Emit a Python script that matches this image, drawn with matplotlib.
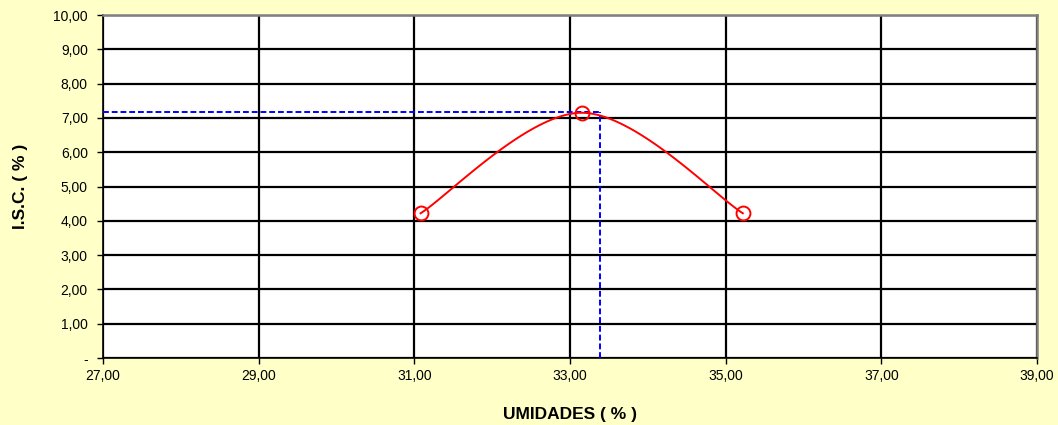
import numpy as np
import matplotlib.pyplot as plt

# data
umidade = [31.08, 33.15, 35.22]
isc = [4.22, 7.15, 4.22]
umidade_otima = 33.39
isc_max = 7.16

x_ticks = [27, 29, 31, 33, 35, 37, 39]
y_ticks = [0, 1, 2, 3, 4, 5, 6, 7, 8, 9, 10]


def fmt(v):
    return '-' if v == 0 else f'{v:.2f}'.replace('.', ',')


def smooth(xs, ys, n=60):
    # bezier smoothing similar to spreadsheet "smoothed line"
    p = np.column_stack([xs, ys])
    out = []
    for i in range(len(p) - 1):
        p0 = p[i - 1] if i > 0 else p[i]
        p3 = p[i + 2] if i + 2 < len(p) else p[i + 1]
        c1 = p[i] + (p[i + 1] - p0) / 6
        c2 = p[i + 1] - (p3 - p[i]) / 6
        t = np.linspace(0, 1, n)[:, None]
        seg = ((1 - t) ** 3 * p[i] + 3 * (1 - t) ** 2 * t * c1
               + 3 * (1 - t) * t ** 2 * c2 + t ** 3 * p[i + 1])
        out.append(seg)
    out = np.vstack(out)
    return out[:, 0], out[:, 1]


plt.rcParams['font.family'] = ['Liberation Sans', 'DejaVu Sans']

fig = plt.figure(figsize=(10.58, 4.25), dpi=100, facecolor='#FFFFC8')
ax = fig.add_axes([0.0974, 0.1576, 0.8828, 0.8071])
ax.set_facecolor('white')

ax.set_xlim(27, 39)
ax.set_ylim(0, 10)
ax.set_xticks(x_ticks)
ax.set_yticks(y_ticks)
ax.set_xticklabels([fmt(v) for v in x_ticks], fontsize=10)
ax.set_yticklabels([fmt(v) for v in y_ticks], fontsize=10)
ax.tick_params(direction='out', length=4, width=1, colors='black')
ax.tick_params(axis='y', pad=7)
ax.tick_params(axis='x', pad=4)
ax.grid(True, color='black', linewidth=1.6, zorder=1)
ax.set_axisbelow(True)

for s in ['top', 'right']:
    ax.spines[s].set_color('#808080')
    ax.spines[s].set_linewidth(1.8)
for s in ['left', 'bottom']:
    ax.spines[s].set_color('black')
    ax.spines[s].set_linewidth(1.2)

# optimum lines
ax.plot([27, umidade_otima], [isc_max, isc_max], color='#0000FF',
        linestyle=(0, (3, 1.5)), linewidth=1.4, zorder=3)
ax.plot([umidade_otima, umidade_otima], [0, isc_max], color='#0000FF',
        linestyle=(0, (3, 1.5)), linewidth=1.4, zorder=3)

sx, sy = smooth(umidade, isc)
ax.plot(sx, sy, color='red', linewidth=1.4, zorder=4)
ax.plot(umidade, isc, linestyle='none', marker='o', markersize=10,
        markerfacecolor='none', markeredgecolor='red', markeredgewidth=1.4,
        zorder=5)

ax.set_xlabel('UMIDADES ( % )', fontsize=12.5, fontweight='bold', labelpad=17)
ax.set_ylabel('I.S.C. ( % )', fontsize=12.5, fontweight='bold', labelpad=18)

fig.savefig('out.png', dpi=100, facecolor=fig.get_facecolor())
